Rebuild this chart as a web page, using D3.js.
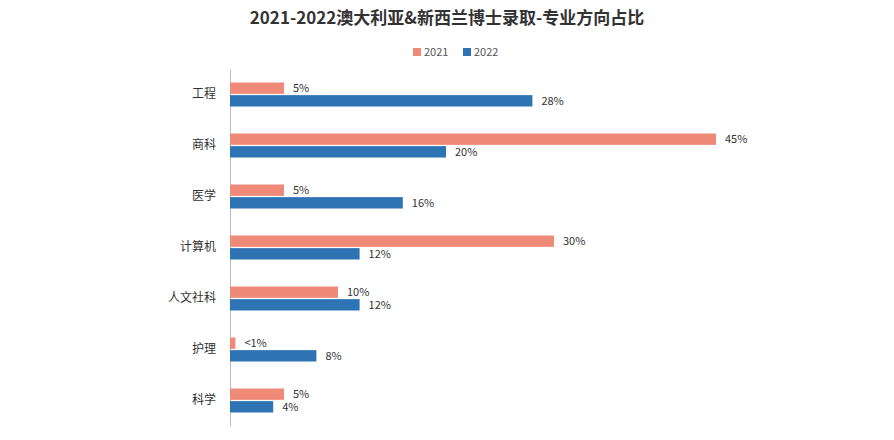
<html>
<head>
<meta charset="UTF-8" />
<script src="https://d3js.org/d3.v7.min.js"></script>
<style>
  body { margin: 0; background: #fff; }
  text { font-family: "Noto Sans CJK SC", "Noto Sans", sans-serif; }
</style>
</head>
<body>
<svg id="svg" width="894" height="440"></svg>
<script>
// data
const categories = ["工程", "商科", "医学", "计算机", "人文社科", "护理", "科学"];
const seriesNames = ["2021", "2022"];
const values2021 = [5, 45, 5, 30, 10, 0.5, 5];
const values2022 = [28, 20, 16, 12, 12, 8, 4];
const labels2021 = ["5%", "45%", "5%", "30%", "10%", "<1%", "5%"];
const labels2022 = ["28%", "20%", "16%", "12%", "12%", "8%", "4%"];
const colors = ["#F08A78", "#2E74B5"];

const svg = d3.select("svg#svg");
const margin = {top: 69, left: 230};

const x = d3.scaleLinear().domain([0, 45]).range([margin.left, margin.left + 486]);
const y = d3.scaleBand().domain(categories).range([margin.top, margin.top + 357]);
const sub = d3.scaleBand().domain(seriesNames).range([0, 24]).paddingInner(0.1);

// title
svg.append("text")
    .attr("x", 447).attr("y", 24)
    .attr("text-anchor", "middle")
    .attr("font-size", 17).attr("font-weight", "bold").attr("fill", "#333")
    .text("2021-2022澳大利亚&新西兰博士录取-专业方向占比");

// legend
const legend = svg.append("g");
seriesNames.forEach((s, i) => {
    const lx = 413 + i * 50;
    legend.append("rect").attr("x", lx).attr("y", 48).attr("width", 8).attr("height", 8).attr("fill", colors[i]);
    legend.append("text").attr("x", lx + 11).attr("y", 56).attr("font-size", 11).attr("fill", "#555").text(s);
});

// axis
svg.append("g")
    .attr("transform", "translate(" + margin.left + ",0)")
    .call(d3.axisLeft(y).tickSize(0).tickPadding(14))
    .call(g => g.select(".domain").attr("stroke", "#bbb"))
    .call(g => g.selectAll("text").attr("font-size", 12).attr("fill", "#333")
        .attr("font-family", "Noto Sans CJK SC"));

const series = [values2021, values2022];
const seriesLabels = [labels2021, labels2022];
const bandOffset = (y.bandwidth() - 24) / 2;

series.forEach((vals, si) => {
    const g = svg.append("g");
    g.selectAll("rect").data(categories).join("rect")
        .attr("x", x(0))
        .attr("y", d => y(d) + bandOffset + sub(seriesNames[si]))
        .attr("width", (d, i) => x(vals[i]) - x(0))
        .attr("height", sub.bandwidth())
        .attr("fill", colors[si]);
    g.selectAll("text").data(categories).join("text")
        .attr("x", (d, i) => x(vals[i]) + 9)
        .attr("y", d => y(d) + bandOffset + sub(seriesNames[si]) + sub.bandwidth() / 2 + 4)
        .attr("font-size", 11).attr("fill", "#333")
        .text((d, i) => seriesLabels[si][i]);
});
</script>
</body>
</html>
